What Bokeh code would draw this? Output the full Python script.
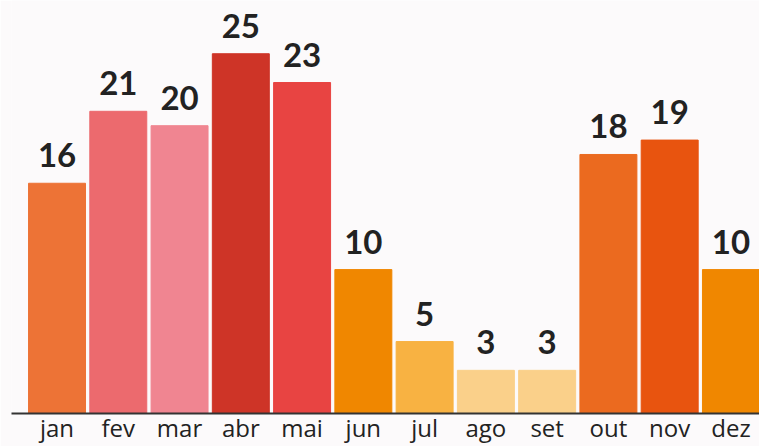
from bokeh.plotting import figure
from bokeh.models import ColumnDataSource, Range1d, FixedTicker
from bokeh.core.properties import value
from bokeh.embed import file_html
from bokeh.resources import INLINE

months = ["jan", "fev", "mar", "abr", "mai", "jun", "jul", "ago", "set", "out", "nov", "dez"]
counts = [16, 21, 20, 25, 23, 10, 5, 3, 3, 18, 19, 10]
colors = ["#ED7336", "#EC6A6E", "#F08591", "#CE3427", "#E84442", "#F08700",
          "#F8B242", "#FAD08A", "#FAD08A", "#EB6A1F", "#E8540F", "#F08700"]

xs = list(range(len(months)))
src = ColumnDataSource(dict(x=xs, top=counts, color=colors,
                            label=[str(c) for c in counts]))

BG = "#FCFAFB"
p = figure(width=759, height=446, output_backend="svg", toolbar_location=None,
           x_range=Range1d(-0.743, 11.466), y_range=Range1d(0, 28.7),
           min_border_left=11, min_border_right=0, min_border_top=0, min_border_bottom=30,
           background_fill_color=BG, border_fill_color=BG, outline_line_color=None)

p.vbar(x="x", top="top", width=0.93, color="color", source=src)
p.text(x="x", y="top", text="label", source=src, text_align="center",
       text_baseline="bottom", y_offset=-16, text_font=value("Lato"),
       text_font_style="bold", text_font_size="33px", text_color="#222222")

p.xaxis.ticker = FixedTicker(ticks=xs)
p.xaxis.major_label_overrides = {i: m for i, m in enumerate(months)}
p.xaxis.major_label_text_font = "Open Sans"
p.xaxis.major_label_text_font_size = "24px"
p.xaxis.major_label_text_color = "#222222"
p.xaxis.major_tick_line_color = None
p.xaxis.minor_tick_line_color = None
p.xaxis.major_tick_out = 0
p.xaxis.major_tick_in = 0
p.xaxis.axis_line_color = "#333333"
p.xaxis.axis_line_width = 2
p.xaxis.major_label_standoff = -3
p.yaxis.visible = False
p.xgrid.visible = False
p.ygrid.visible = False

open("out.html", "w").write(file_html(p, INLINE))
